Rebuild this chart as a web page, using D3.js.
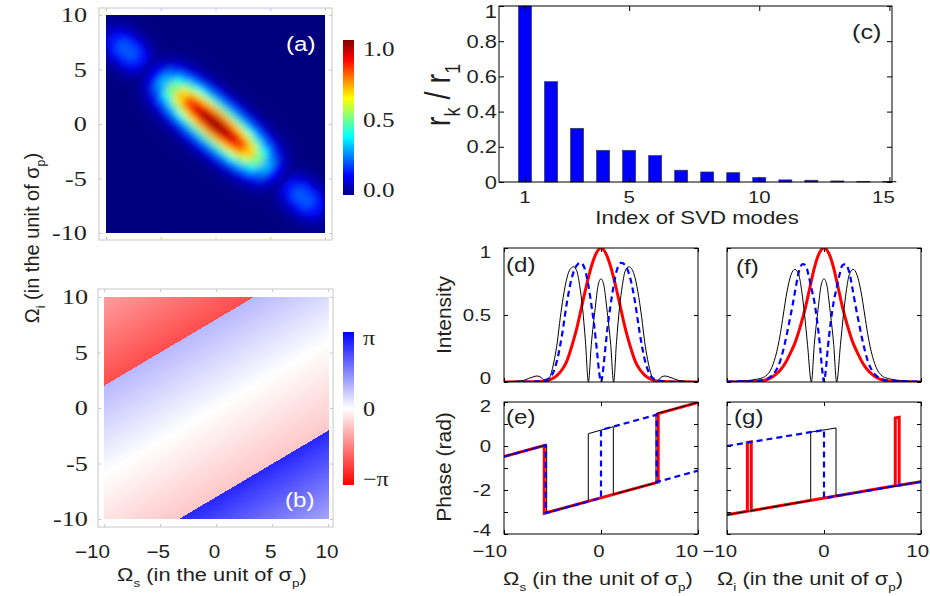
<!DOCTYPE html>
<html>
<head>
<meta charset="utf-8">
<title>Joint spectrum and SVD modes</title>
<script src="https://cdn.jsdelivr.net/npm/d3@7"></script>
<style>
  body { margin: 0; background: #fff; }
  svg { display: block; }
</style>
</head>
<body>
<script>
// ---------- values ----------

// (a) joint spectral intensity, profile along the long axis of the ellipse (t)
// and across it (w), both in units of sigma_p; the side lobes are thinner
var lobeT = [-15,-14,-13,-12,-11,-10,-9,-8,-7,-6,-5,-4,-3,-2,-1,0,1,2,3,4,5,6,7,8,9,10,11,12,13,14,15];
var lobeAlong = [0,0.01,0.06,0.15,0.22,0.22,0.15,0.04,0.13,0.32,0.52,0.7,0.84,0.93,0.98,1.0,0.98,0.93,0.84,0.7,0.52,0.32,0.13,0.04,0.15,0.22,0.22,0.15,0.06,0.01,0];
var lobeW = [-6,-5.5,-5,-4.5,-4,-3.5,-3,-2.5,-2,-1.5,-1,-0.5,0,0.5,1,1.5,2,2.5,3,3.5,4,4.5,5,5.5,6];
var coreAcross = [0,0,0,0.001,0.004,0.014,0.044,0.114,0.25,0.458,0.707,0.917,1,0.917,0.707,0.458,0.25,0.114,0.044,0.014,0.004,0.001,0,0,0];
var sideAcross = [0,0,0,0,0,0.002,0.011,0.044,0.135,0.32,0.61,0.88,1,0.88,0.61,0.32,0.135,0.044,0.011,0.002,0,0,0,0,0];
var sideLobeStart = 8;   // |t| from which the side-lobe profile applies
var intensityTicks = [0.0, 0.5, 1.0];

// (b) phase (in units of pi) across the stripes, s = Omega_i - 0.6 Omega_s
var phaseS = [-16, -8, -8, 0, 8, 8, 16];
var phaseVal = [0.35, 0.85, -0.22, 0, 0.28, -0.7, -0.38];
var phaseTicks = [-1, 0, 1];
var phaseTickText = ["\u2212\u03c0", "0", "\u03c0"];
var spectralTicks = [-10, -5, 0, 5, 10];

// (c) SVD mode weights
var modeIndex = [1,2,3,4,5,6,7,8,9,10,11,12,13,14,15];
var modeWeight = [1.0,0.57,0.305,0.18,0.18,0.15,0.067,0.057,0.053,0.025,0.012,0.01,0.006,0.003,0.002];
var modeTicksX = [1, 5, 10, 15];
var modeTicksY = [0, 0.2, 0.4, 0.6, 0.8, 1];

// (d) signal intensity of modes 1 (red), 2 (blue dashed), 3 (black)
var dRedX = [-10,-7,-6,-5.5,-5,-4.5,-4,-3.5,-3,-2.5,-2,-1.5,-1,-0.5,0,0.5,1,1.5,2,2.5,3,3.5,4,4.5,5,5.5,6,7,10];
var dRedY = [0,0.001,0.005,0.011,0.026,0.052,0.093,0.16,0.27,0.4,0.56,0.72,0.86,0.96,1,0.96,0.86,0.72,0.56,0.4,0.27,0.16,0.093,0.052,0.026,0.011,0.005,0.001,0];
var dBlueX = [-10,-7,-6,-5.5,-5,-4.5,-4,-3.5,-3,-2.5,-2.1,-1.7,-1.3,-1,-0.7,-0.4,-0.2,0,0.2,0.4,0.7,1,1.3,1.7,2.1,2.5,3,3.5,4,4.5,5,5.5,6,7,10];
var dBlueY = [0,0.002,0.01,0.02,0.06,0.17,0.36,0.6,0.78,0.87,0.89,0.85,0.72,0.58,0.42,0.22,0.08,0,0.08,0.22,0.42,0.58,0.72,0.85,0.89,0.87,0.78,0.6,0.36,0.17,0.06,0.02,0.01,0.002,0];
var dBlackX = [-10,-9,-8,-7.5,-7,-6.6,-6.2,-5.9,-5.6,-5.2,-4.8,-4.5,-4.2,-3.9,-3.5,-3.2,-2.85,-2.5,-2.2,-1.9,-1.6,-1.3,-1,-0.6,-0.3,0,0.3,0.6,1,1.3,1.6,1.9,2.2,2.5,2.85,3.2,3.5,3.9,4.2,4.5,4.8,5.2,5.6,5.9,6.2,6.6,7,7.5,8,9,10];
var dBlackY = [0.001,0.004,0.012,0.025,0.038,0.045,0.035,0.015,0,0.05,0.17,0.3,0.48,0.63,0.78,0.84,0.86,0.83,0.72,0.55,0.3,0,0.28,0.55,0.72,0.77,0.72,0.55,0.28,0,0.3,0.55,0.72,0.83,0.86,0.84,0.78,0.63,0.48,0.3,0.17,0.05,0,0.015,0.035,0.045,0.038,0.025,0.012,0.004,0.001];

// (e) signal phase
var eRedX = [-10,-5.85,-5.85,5.9,5.9,10];
var eRedY = [-0.48,0.02,-3.06,-1.64,1.47,1.98];
var eBlueX = [-10,-5.7,-5.7,0,0,5.74,5.74,10];
var eBlueY = [-0.48,0.04,-3.05,-2.36,0.73,1.42,-1.64,-1.12];
var eBlackX = [-10,-5.6,-5.6,-1.31,-1.31,1.27,1.27,5.67,5.67,10];
var eBlackY = [-0.48,0.05,-3.04,-2.52,0.56,0.88,-2.2,-1.67,1.47,1.98];

// (f) idler intensity
var fRedX = [-10,-8,-7,-6.5,-6,-5.5,-5,-4.5,-4,-3.5,-3,-2.5,-2,-1.5,-1,-0.5,0,0.5,1,1.5,2,2.5,3,3.5,4,4.5,5,5.5,6,6.5,7,8,10];
var fRedY = [0,0.002,0.004,0.008,0.015,0.03,0.055,0.09,0.14,0.21,0.29,0.4,0.53,0.69,0.85,0.96,1,0.96,0.85,0.69,0.53,0.4,0.29,0.21,0.14,0.09,0.055,0.03,0.015,0.008,0.004,0.002,0];
var fBlueX = [-10,-7,-6,-5.5,-5,-4.5,-4,-3.6,-3.3,-3,-2.6,-2.2,-1.9,-1.6,-1.3,-1,-0.7,-0.4,-0.2,0,0.2,0.4,0.7,1,1.3,1.6,1.9,2.2,2.6,3,3.3,3.6,4,4.5,5,5.5,6,7,10];
var fBlueY = [0.003,0.008,0.02,0.04,0.08,0.16,0.3,0.44,0.55,0.67,0.82,0.88,0.87,0.8,0.7,0.6,0.45,0.26,0.1,0,0.1,0.26,0.45,0.6,0.7,0.8,0.87,0.88,0.82,0.67,0.55,0.44,0.3,0.16,0.08,0.04,0.02,0.008,0.003];
var fBlackX = [-10,-8,-7,-6.5,-6,-5.5,-5,-4.5,-4.2,-3.8,-3.4,-3,-2.6,-2.3,-2,-1.7,-1.3,-1,-0.6,-0.3,0,0.3,0.6,1,1.3,1.7,2,2.3,2.6,3,3.4,3.8,4.2,4.5,5,5.5,6,6.5,7,8,10];
var fBlackY = [0.004,0.01,0.02,0.028,0.045,0.09,0.19,0.36,0.5,0.68,0.8,0.84,0.8,0.68,0.5,0.28,0,0.28,0.55,0.72,0.77,0.72,0.55,0.28,0,0.28,0.5,0.68,0.8,0.84,0.8,0.68,0.5,0.36,0.19,0.09,0.045,0.028,0.02,0.01,0.004];

// (g) idler phase
var gRedX = [-10,-7.9,-7.9,-7.5,-7.5,7.35,7.35,7.75,7.75,10];
var gRedY = [-3.13,-2.97,0.16,0.19,-2.94,-1.81,1.27,1.3,-1.78,-1.62];
var gBlueX = [-10,0,0,10];
var gBlueY = [0.0,0.73,-2.37,-1.62];
var gBlackX = [-10,-1.37,-1.37,1.24,1.24,10];
var gBlackY = [-3.13,-2.48,0.63,0.82,-2.28,-1.62];

var curveXTicks = [-10, 0, 10];
var intensityYTicks = [0, 0.5, 1];
var phaseYTicks = [-4, -3, -2, -1, 0, 1, 2];
var phaseYLabels = [-4, -2, 0, 2];

// ---------- setup ----------
var SANS = "'Liberation Sans', Arial, Helvetica, sans-serif";
var SERIF = "'Liberation Serif', 'Times New Roman', serif";
var INK = "#231f20";
var lobeAngle = 40;     // tilt of the ellipse, degrees below horizontal
var stripeSlope = 0.6;  // slope of the phase stripes in (b)

var svg = d3.select("body").append("svg").attr("width", 930).attr("height", 596);
var defs = svg.append("defs");

// text with optional subscripts, stretched a little like the original
function addText(x, y, parts, opt) {
  opt = opt || {};
  var size = opt.size || 17;
  var tf = "translate(" + x + "," + y + ")";
  if (opt.rotate) tf += " rotate(" + opt.rotate + ")";
  tf += " scale(" + (opt.sx || 1) + "," + (opt.sy || 1) + ")";
  var t = svg.append("text").attr("transform", tf)
    .attr("font-family", opt.family || SANS)
    .attr("font-size", size)
    .attr("text-anchor", opt.anchor || "middle")
    .attr("fill", opt.fill || INK);
  var shift = size * 0.3, low = false;
  [].concat(parts).forEach(function(p) {
    if (typeof p === "string") {
      t.append("tspan").attr("dy", low ? -shift : 0).text(p);
      low = false;
    } else {
      t.append("tspan").attr("dy", shift).attr("font-size", size * 0.62).text(p.sub);
      low = true;
    }
  });
  return t;
}

// inward ticks on all four sides plus the frame
function frameTicks(g, x, y, xVals, yVals, len, color) {
  var xr = x.range(), yr = y.range();
  var axes = [
    [d3.axisBottom(x).tickValues(xVals), "translate(0," + yr[0] + ")"],
    [d3.axisTop(x).tickValues(xVals), "translate(0," + yr[1] + ")"],
    [d3.axisLeft(y).tickValues(yVals), "translate(" + xr[0] + ",0)"],
    [d3.axisRight(y).tickValues(yVals), "translate(" + xr[1] + ",0)"]
  ];
  axes.forEach(function(a) {
    g.append("g").attr("transform", a[1])
      .call(a[0].tickSize(-len).tickFormat(""));
  });
  g.selectAll(".domain").remove();
  g.selectAll(".tick line").attr("stroke", color);
  g.append("rect")
    .attr("x", xr[0]).attr("y", yr[1])
    .attr("width", xr[1] - xr[0]).attr("height", yr[0] - yr[1])
    .attr("fill", "none").attr("stroke", color).attr("stroke-width", 1);
}

var jet = d3.scaleLinear()
  .domain([0, 0.125, 0.375, 0.625, 0.875, 1])
  .range(["#00007f", "#0000ff", "#00ffff", "#ffff00", "#ff0000", "#7f0000"])
  .clamp(true);
var phaseColor = d3.scaleLinear().domain([-1, 0, 1]).range(["#ff0000", "#ffffff", "#0000ff"]);

// ---------- (a) joint spectral intensity ----------
var xa = d3.scaleLinear().domain([-10, 10]).range([106, 325]);
var ya = d3.scaleLinear().domain([-10, 10]).range([233, 15]);

defs.append("clipPath").attr("id", "clipA").append("rect")
  .attr("x", xa(-10)).attr("y", ya(10)).attr("width", xa(10) - xa(-10)).attr("height", ya(-10) - ya(10));
defs.append("filter").attr("id", "soft").attr("filterUnits", "userSpaceOnUse")
  .attr("x", 0).attr("y", 0).attr("width", 930).attr("height", 596)
  .append("feGaussianBlur").attr("stdDeviation", 3.5);

var aBlur = svg.append("g").attr("clip-path", "url(#clipA)")
  .append("g").attr("filter", "url(#soft)");
aBlur.append("rect").attr("x", 70).attr("y", -20).attr("width", 290).attr("height", 290).attr("fill", jet(0));

var th = lobeAngle * Math.PI / 180;
var eT = [Math.cos(th), -Math.sin(th)], eW = [Math.sin(th), Math.cos(th)];
var cells = [];
lobeT.forEach(function(t, i) {
  var across = Math.abs(t) >= sideLobeStart ? sideAcross : coreAcross;
  lobeW.forEach(function(w, j) {
    cells.push({ t: t, w: w, v: lobeAlong[i] * across[j] });
  });
});
aBlur.selectAll("polygon").data(cells).join("polygon")
  .attr("points", function(d) {
    return [[-0.52, -0.27], [0.52, -0.27], [0.52, 0.27], [-0.52, 0.27]].map(function(c) {
      var tt = d.t + c[0], ww = d.w + c[1];
      return xa(tt * eT[0] + ww * eW[0]) + "," + ya(tt * eT[1] + ww * eW[1]);
    }).join(" ");
  })
  .attr("fill", function(d) { return jet(d.v); });

var aFrameX = d3.scaleLinear().domain([-10.64, 10.64]).range([99, 332]);
var aFrameY = d3.scaleLinear().domain([-10.64, 10.64]).range([240, 8]);
frameTicks(svg.append("g"), aFrameX, aFrameY, spectralTicks, spectralTicks, 3, "#c8c8c8");

spectralTicks.forEach(function(v) {
  addText(87, ya(v) + 7, String(v), { family: SERIF, size: 21, anchor: "end", sx: 1.25 });
});
addText(286, 51, "(a)", { size: 21, anchor: "start", sx: 1.15, fill: "#ffffff" });

// colour bar (a)
var jg = defs.append("linearGradient").attr("id", "jetBar").attr("x1", 0).attr("y1", 1).attr("x2", 0).attr("y2", 0);
jet.domain().forEach(function(v) {
  jg.append("stop").attr("offset", v).attr("stop-color", jet(v));
});
svg.append("rect").attr("x", 343).attr("y", 40).attr("width", 11).attr("height", 155).attr("fill", "url(#jetBar)");
var cbA = d3.scaleLinear().domain([0, 1]).range([190, 49]);
intensityTicks.forEach(function(v) {
  addText(363, cbA(v) + 7, v.toFixed(1), { family: SERIF, size: 21, anchor: "start", sx: 1.2 });
});

// ---------- (b) phase ----------
var xb = d3.scaleLinear().domain([-10, 10]).range([104, 329]);
var yb = d3.scaleLinear().domain([-10, 10]).range([519, 297]);

var kx = xb(1) - xb(0), ky = yb(0) - yb(1);
var gx = -stripeSlope / kx, gy = -1 / ky, g2 = gx * gx + gy * gy;
function stripePoint(s) { return [xb(0) + gx * s / g2, yb(0) + gy * s / g2]; }
var sMin = d3.min(phaseS), sMax = d3.max(phaseS);
var p0 = stripePoint(sMin), p1 = stripePoint(sMax);
var pg = defs.append("linearGradient").attr("id", "phaseField").attr("gradientUnits", "userSpaceOnUse")
  .attr("x1", p0[0]).attr("y1", p0[1]).attr("x2", p1[0]).attr("y2", p1[1]);
phaseS.forEach(function(s, i) {
  pg.append("stop").attr("offset", (s - sMin) / (sMax - sMin)).attr("stop-color", phaseColor(phaseVal[i]));
});
svg.append("rect")
  .attr("x", xb(-10)).attr("y", yb(10)).attr("width", xb(10) - xb(-10)).attr("height", yb(-10) - yb(10))
  .attr("fill", "url(#phaseField)");

var bFrameX = d3.scaleLinear().domain([-10.53, 10.44]).range([98, 333]);
var bFrameY = d3.scaleLinear().domain([-10.72, 10.72]).range([527, 289]);
frameTicks(svg.append("g"), bFrameX, bFrameY, spectralTicks, spectralTicks, 3, "#c8c8c8");

spectralTicks.forEach(function(v) {
  addText(88, yb(v) + 7, String(v), { family: SERIF, size: 21, anchor: "end", sx: 1.25 });
  if (v === -10) addText(xb(v) + 6, 558, "\u221210", { size: 18, anchor: "end", sx: 1.15 });
  else addText(xb(v) - 2, 558, String(v).replace("-", "\u2212"), { size: 18, sx: 1.15 });
});
addText(285, 507, "(b)", { size: 21, anchor: "start", sx: 1.15, fill: "#ffffff" });
addText(212, 581, ["\u03a9", { sub: "s" }, " (in the unit of \u03c3", { sub: "p" }, ")"], { size: 19, sx: 1.15 });
addText(39, 238, ["\u03a9", { sub: "i" }, " (in the unit of \u03c3", { sub: "p" }, ")"], { size: 20, rotate: -90 });

// colour bar (b)
var bg = defs.append("linearGradient").attr("id", "phaseBar").attr("x1", 0).attr("y1", 1).attr("x2", 0).attr("y2", 0);
phaseTicks.forEach(function(v, i) {
  bg.append("stop").attr("offset", i / (phaseTicks.length - 1)).attr("stop-color", phaseColor(v));
});
svg.append("rect").attr("x", 343).attr("y", 332).attr("width", 11).attr("height", 153).attr("fill", "url(#phaseBar)");
var cbB = d3.scaleLinear().domain([-1, 1]).range([480, 339]);
phaseTicks.forEach(function(v, i) {
  addText(363, cbB(v) + 6, phaseTickText[i], { family: SERIF, size: 21, anchor: "start", sx: 1.15 });
});

// ---------- (c) SVD weights ----------
var xc = d3.scaleLinear().domain([0, 15.1]).range([499, 892]);
var yc = d3.scaleLinear().domain([0, 1]).range([182, 6]);
var bw = xc(0.25) - xc(-0.25);
svg.append("g").selectAll("rect").data(modeIndex).join("rect")
  .attr("x", function(d) { return xc(d) - bw / 2; })
  .attr("y", function(d, i) { return yc(modeWeight[i]); })
  .attr("width", bw)
  .attr("height", function(d, i) { return yc(0) - yc(modeWeight[i]); })
  .attr("fill", "#0000ff").attr("stroke", "#3a3a3a").attr("stroke-width", 0.7);
frameTicks(svg.append("g"), xc, yc, modeTicksX, modeTicksY, 5, "#000");
modeTicksY.forEach(function(v) {
  var yy = Math.max(yc(v), 11);
  addText(497, yy + 6.5, String(v), { size: 18, anchor: "end", sx: 1.22 });
});
modeTicksX.forEach(function(v) {
  addText(v === 15 ? xc(v) - 6 : xc(v), 203, String(v), { size: 17, sx: 1.2 });
});
addText(697, 224, "Index of SVD modes", { size: 18.5, sx: 1.2 });
addText(450, 95, ["r", { sub: "k" }, " / r", { sub: "1" }], { size: 29, rotate: -90, sy: 1.2 });
addText(852, 39, "(c)", { size: 21, anchor: "start", sx: 1.2 });

// ---------- (d)-(g) mode profiles ----------
var curveId = 0;
function curvePanel(box, yDom, yTicks, yLabels, xLabels, curves, tag) {
  var x = d3.scaleLinear().domain([-10, 10]).range([box.x0, box.x1]);
  var y = d3.scaleLinear().domain(yDom).range([box.y1, box.y0]);
  var id = "clipC" + (curveId++);
  defs.append("clipPath").attr("id", id).append("rect")
    .attr("x", box.x0).attr("y", box.y0).attr("width", box.x1 - box.x0).attr("height", box.y1 - box.y0);
  var g = svg.append("g").attr("clip-path", "url(#" + id + ")");
  curves.forEach(function(c) {
    var line = d3.line()
      .x(function(d) { return x(d[0]); })
      .y(function(d) { return y(d[1]); })
      .curve(c.smooth ? d3.curveMonotoneX : d3.curveLinear);
    g.append("path")
      .attr("d", line(d3.zip(c.xs, c.ys)))
      .attr("fill", "none")
      .attr("stroke", c.color)
      .attr("stroke-width", c.width)
      .attr("stroke-dasharray", c.dash || null)
      .attr("stroke-linejoin", "miter");
  });
  frameTicks(svg.append("g"), x, y, curveXTicks, yTicks, 4, "#000");
  yLabels.forEach(function(v) {
    var yy = Math.min(Math.max(y(v), box.y0 + 4), box.y1 - 4);
    addText(491, yy + 6, String(v), { size: 17, anchor: "end", sx: 1.2 });
  });
  xLabels.forEach(function(l) {
    addText(x(l.v) + l.dx, 557, l.text, { size: 17, anchor: l.anchor, sx: 1.2 });
  });
  addText(tag.x, tag.y, tag.text, { size: 21, anchor: "start", sx: 1.15 });
  return { x: x, y: y };
}

function profiles(rx, ry, bx, by, kx2, ky2, smooth) {
  return [
    { xs: rx, ys: ry, color: "#ff0000", width: 3, smooth: smooth },
    { xs: kx2, ys: ky2, color: "#000000", width: 1, smooth: smooth },
    { xs: bx, ys: by, color: "#0000ff", width: 2.2, dash: "6,4", smooth: smooth }
  ];
}

curvePanel({ x0: 504, x1: 698, y0: 248, y1: 382 }, [0, 1], intensityYTicks, intensityYTicks, [],
  profiles(dRedX, dRedY, dBlueX, dBlueY, dBlackX, dBlackY, true), { x: 506, y: 272, text: "(d)" });
curvePanel({ x0: 504, x1: 698, y0: 402, y1: 534 }, [-4, 2], phaseYTicks, phaseYLabels,
  [{ v: -10, dx: 3, anchor: "end", text: "\u221210" }, { v: 0, dx: -2, anchor: "middle", text: "0" }, { v: 10, dx: 0, anchor: "end", text: "10" }],
  profiles(eRedX, eRedY, eBlueX, eBlueY, eBlackX, eBlackY, false), { x: 506, y: 424, text: "(e)" });
curvePanel({ x0: 727, x1: 921, y0: 248, y1: 382 }, [0, 1], intensityYTicks, [], [],
  profiles(fRedX, fRedY, fBlueX, fBlueY, fBlackX, fBlackY, true), { x: 736, y: 274, text: "(f)" });
curvePanel({ x0: 727, x1: 921, y0: 402, y1: 534 }, [-4, 2], phaseYTicks, [],
  [{ v: -10, dx: 10, anchor: "end", text: "\u221210" }, { v: 0, dx: 0, anchor: "middle", text: "0" }, { v: 10, dx: 8, anchor: "end", text: "10" }],
  profiles(gRedX, gRedY, gBlueX, gBlueY, gBlackX, gBlackY, false), { x: 734, y: 424, text: "(g)" });

addText(451, 315, "Intensity", { size: 21, rotate: -90 });
addText(451, 467, "Phase (rad)", { size: 21, rotate: -90 });
addText(598, 585, ["\u03a9", { sub: "s" }, " (in the unit of \u03c3", { sub: "p" }, ")"], { size: 19, sx: 1.15 });
addText(810, 585, ["\u03a9", { sub: "i" }, " (in the unit of \u03c3", { sub: "p" }, ")"], { size: 19, sx: 1.15 });
</script>
</body>
</html>
